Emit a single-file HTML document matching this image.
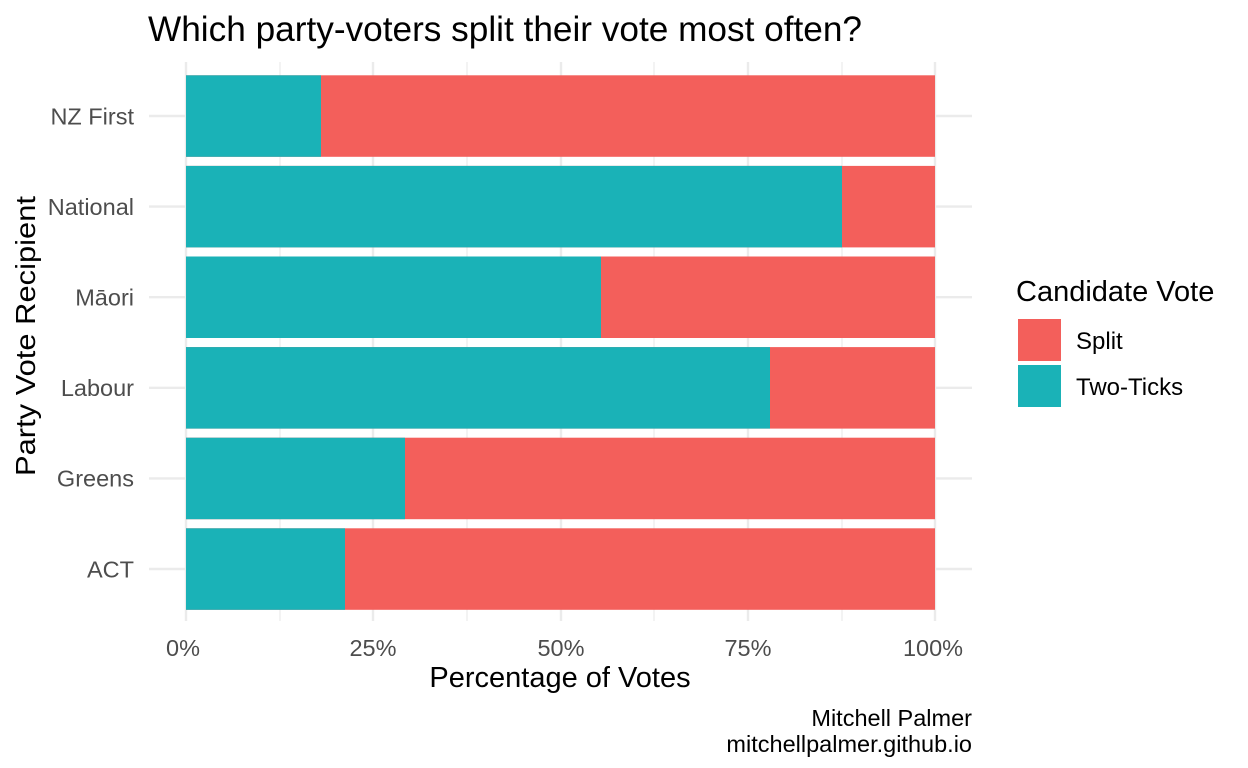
<!DOCTYPE html>
<html><head><meta charset="utf-8"><style>
html,body{margin:0;padding:0;background:#fff;}
svg{display:block;font-family:"Liberation Sans",Arial,sans-serif;}
</style></head><body>
<svg width="1248" height="768" viewBox="0 0 1248 768" xmlns="http://www.w3.org/2000/svg">
<rect width="1248" height="768" fill="#fff"/>
<g stroke="#ebebeb">
<g stroke-width="1.2">
<line x1="280" y1="62" x2="280" y2="621"/><line x1="467" y1="62" x2="467" y2="621"/>
<line x1="654" y1="62" x2="654" y2="621"/><line x1="842" y1="62" x2="842" y2="621"/>
</g>
<g stroke-width="2.4">
<line x1="186" y1="62" x2="186" y2="621"/><line x1="373" y1="62" x2="373" y2="621"/>
<line x1="561" y1="62" x2="561" y2="621"/><line x1="748" y1="62" x2="748" y2="621"/>
<line x1="935" y1="62" x2="935" y2="621"/>
<line x1="149" y1="116" x2="972" y2="116"/><line x1="149" y1="206.6" x2="972" y2="206.6"/>
<line x1="149" y1="297.2" x2="972" y2="297.2"/><line x1="149" y1="387.8" x2="972" y2="387.8"/>
<line x1="149" y1="478.4" x2="972" y2="478.4"/><line x1="149" y1="569" x2="972" y2="569"/>
</g>
</g>
<g>
<rect x="186" y="75.3" width="749" height="81.5" fill="#F35F5B"/><rect x="186" y="75.3" width="135" height="81.5" fill="#1AB2B7"/>
<rect x="186" y="165.9" width="749" height="81.5" fill="#F35F5B"/><rect x="186" y="165.9" width="656" height="81.5" fill="#1AB2B7"/>
<rect x="186" y="256.5" width="749" height="81.5" fill="#F35F5B"/><rect x="186" y="256.5" width="415" height="81.5" fill="#1AB2B7"/>
<rect x="186" y="347.1" width="749" height="81.5" fill="#F35F5B"/><rect x="186" y="347.1" width="584" height="81.5" fill="#1AB2B7"/>
<rect x="186" y="437.7" width="749" height="81.5" fill="#F35F5B"/><rect x="186" y="437.7" width="219" height="81.5" fill="#1AB2B7"/>
<rect x="186" y="528.3" width="749" height="81.5" fill="#F35F5B"/><rect x="186" y="528.3" width="159" height="81.5" fill="#1AB2B7"/>
</g>
<text x="148" y="41" font-size="35" fill="#000" textLength="714" lengthAdjust="spacingAndGlyphs">Which party-voters split their vote most often?</text>
<g font-size="23.5" fill="#4d4d4d" text-anchor="end">
<text x="134" y="124.5">NZ First</text><text x="134" y="215">National</text>
<text x="134" y="305.5">Māori</text><text x="134" y="396">Labour</text>
<text x="134" y="486.5">Greens</text><text x="134" y="577.5">ACT</text>
</g>
<g font-size="23.5" fill="#4d4d4d" text-anchor="middle">
<text x="183" y="656">0%</text><text x="373" y="656">25%</text><text x="561" y="656">50%</text>
<text x="748" y="656">75%</text><text x="933" y="656">100%</text>
</g>
<text x="560" y="687" font-size="29" text-anchor="middle" fill="#000">Percentage of Votes</text>
<text transform="translate(35,336) rotate(-90)" font-size="28" text-anchor="middle" fill="#000" textLength="280" lengthAdjust="spacingAndGlyphs">Party Vote Recipient</text>
<text x="1016" y="301" font-size="29" fill="#000">Candidate Vote</text>
<rect x="1018" y="319" width="43" height="42" fill="#F35F5B"/>
<rect x="1018" y="365" width="43" height="42" fill="#1AB2B7"/>
<text x="1076" y="349" font-size="24" fill="#000">Split</text>
<text x="1076" y="395" font-size="24" fill="#000">Two-Ticks</text>
<g font-size="23.5" fill="#000" text-anchor="end">
<text x="972" y="726">Mitchell Palmer</text>
<text x="972" y="752">mitchellpalmer.github.io</text>
</g>
</svg>
</body></html>
